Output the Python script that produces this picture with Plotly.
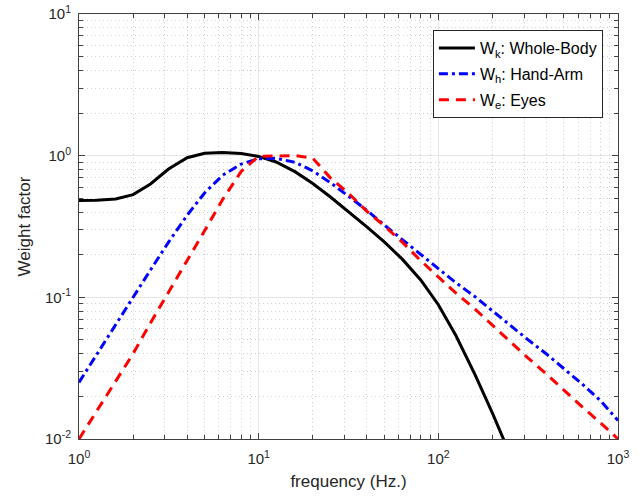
import plotly.graph_objects as go

# 1/3-octave band centre frequencies (Hz)
freq = [1, 1.25, 1.6, 2, 2.5, 3.15, 4, 5, 6.3, 8, 10, 12.5, 16, 20, 25, 31.5,
        40, 50, 63, 80, 100, 125, 160, 200, 250, 315, 400, 500, 630, 800, 1000]

# Wk : Whole-Body
w_k = [0.482, 0.484, 0.494, 0.531, 0.631, 0.804, 0.967, 1.039, 1.054, 1.036,
       0.988, 0.902, 0.768, 0.636, 0.513, 0.405, 0.314, 0.246, 0.186, 0.132,
       0.0887, 0.054, 0.0285, 0.0152, 0.0079, 0.00398, 0.00195, None, None, None, None]

# Wh : Hand-Arm
w_h = [0.0251, 0.0393, 0.0643, 0.1005, 0.156, 0.245, 0.380, 0.545, 0.727, 0.873,
       0.951, 0.958, 0.896, 0.782, 0.647, 0.519, 0.411, 0.324, 0.256, 0.202,
       0.160, 0.127, 0.101, 0.0799, 0.0634, 0.0503, 0.0398, 0.0314, 0.0245, 0.0186, 0.0135]

# We : Eyes
w_e = [0.0100, 0.0156, 0.0256, 0.040, 0.066, 0.108, 0.180, 0.295, 0.49, 0.775,
       0.99, 1.0, 1.0, 0.96, 0.70, 0.545, 0.405, 0.32, 0.245, 0.181,
       0.140, 0.1075, 0.0826, 0.0634, 0.0487, 0.0374, 0.0287, 0.0221, 0.0169, 0.0130, 0.0100]

x_tickvals = [1, 10, 100, 1000]
x_ticktext = ["10<sup>0</sup>", "10<sup>1</sup>", "10<sup>2</sup>", "10<sup>3</sup>"]
y_tickvals = [0.01, 0.1, 1, 10]
y_ticktext = ["10<sup>-2</sup>", "10<sup>-1</sup>", "10<sup>0</sup>", "10<sup>1</sup>"]

fig = go.Figure()
fig.add_trace(go.Scatter(x=freq, y=w_k, mode="lines", name="W<sub>k</sub>: Whole-Body",
                         legendgroup="k",
                         line=dict(color="black", width=3)))
fig.add_trace(go.Scatter(x=freq, y=w_h, mode="lines", name="W<sub>h</sub>: Hand-Arm",
                         legendgroup="h",
                         line=dict(color="#0000ff", width=3, dash="9px,4px,3px,4px")))
fig.add_trace(go.Scatter(x=freq, y=w_e, mode="lines", name="W<sub>e</sub>: Eyes",
                         legendgroup="e",
                         line=dict(color="#ff0000", width=3, dash="10px,7px")))

axis_common = dict(
    type="log",
    showline=True, linecolor="#404040", linewidth=1, mirror="ticks",
    ticks="inside", ticklen=6, tickcolor="#404040", tickwidth=1,
    showgrid=True, gridcolor="#e6e6e6", gridwidth=1,
    zeroline=False,
    tickfont=dict(family="Liberation Sans, Arial", size=15, color="#262626"),
    minor=dict(dtick="D1", ticks="inside", ticklen=4, tickcolor="#404040",
               showgrid=True, gridcolor="#cfcfcf", griddash="1px,3px", gridwidth=1),
)

fig.update_xaxes(axis_common, range=[0, 3], tickmode="array",
                 tickvals=x_tickvals, ticktext=x_ticktext, ticklabelstandoff=6,
                 title=dict(text="frequency (Hz.)", standoff=9,
                            font=dict(family="Liberation Sans, Arial", size=17, color="#262626")))
fig.update_yaxes(axis_common, range=[-2, 1], tickmode="array",
                 tickvals=y_tickvals, ticktext=y_ticktext, ticklabelstandoff=4,
                 title=dict(text="Weight factor", standoff=10,
                            font=dict(family="Liberation Sans, Arial", size=17, color="#262626")))

fig.update_layout(
    width=643, height=497,
    margin=dict(l=79, r=25, t=14, b=58, autoexpand=False),
    paper_bgcolor="white", plot_bgcolor="white",
    showlegend=True,
    legend=dict(x=0.972, y=0.962, xanchor="right", yanchor="top",
                bgcolor="white", bordercolor="#262626", borderwidth=1,
                traceorder="grouped", tracegroupgap=2, itemwidth=36,
                font=dict(family="Liberation Sans, Arial", size=16, color="black")),
)

fig.write_html("out.html")
